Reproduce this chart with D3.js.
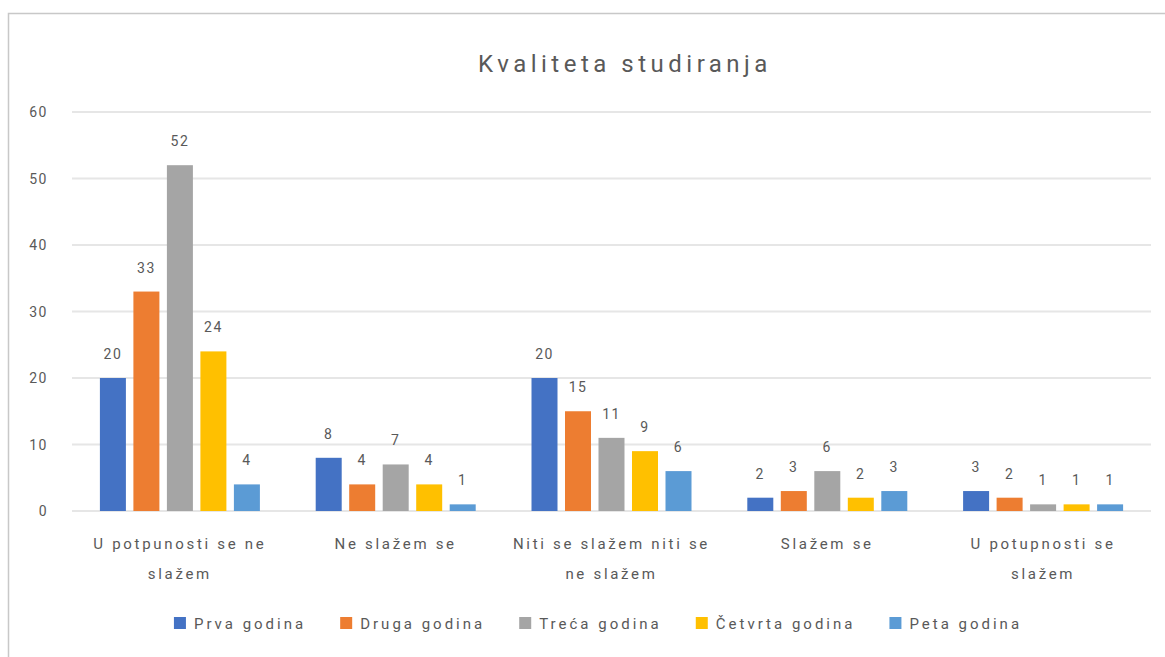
<!DOCTYPE html>
<html>
<head>
<meta charset="utf-8">
<script src="https://cdn.jsdelivr.net/npm/d3@7"></script>
<style>
  body { margin: 0; background: #fff; }
  text { font-family: Roboto, "Liberation Sans", sans-serif; fill: #595959; }
</style>
</head>
<body>
<script>
var categories = ["U potpunosti se ne\nslažem", "Ne slažem se", "Niti se slažem niti se\nne slažem", "Slažem se", "U potupnosti se\nslažem"];
var seriesNames = ["Prva godina", "Druga godina", "Treća godina", "Četvrta godina", "Peta godina"];
var prva = [20, 8, 20, 2, 3];
var druga = [33, 4, 15, 3, 2];
var treca = [52, 7, 11, 6, 1];
var cetvrta = [24, 4, 9, 2, 1];
var peta = [4, 1, 6, 3, 1];
var yTicks = [0, 10, 20, 30, 40, 50, 60];
var colors = ["#4472C4", "#ED7D31", "#A5A5A5", "#FFC000", "#5B9BD5"];

var series = [prva, druga, treca, cetvrta, peta];

var w = 1165, h = 657;
var plotLeft = 72, plotRight = 1151, plotTop = 112, plotBottom = 511;

var svg = d3.select("body").append("svg")
    .attr("width", w)
    .attr("height", h);

// outer chart border
svg.append("rect")
   .attr("x", 8.5).attr("y", 13.5)
   .attr("width", w + 10).attr("height", h)
   .attr("fill", "none")
   .attr("stroke", "#c8c8c8")
   .attr("stroke-width", 1.5);

var x = d3.scaleBand().domain(d3.range(categories.length)).range([plotLeft, plotRight]);
var y = d3.scaleLinear().domain([0, 60]).range([plotBottom, plotTop]);

// gridlines
svg.selectAll("line.grid")
   .data(yTicks)
   .enter()
   .append("line")
   .attr("x1", plotLeft).attr("x2", plotRight)
   .attr("y1", function(d) { return y(d); })
   .attr("y2", function(d) { return y(d); })
   .attr("stroke", "#e6e6e6")
   .attr("stroke-width", 2);

// y labels
svg.selectAll("text.ytick")
   .data(yTicks)
   .enter()
   .append("text")
   .text(function(d) { return d; })
   .attr("x", 48)
   .attr("y", function(d) { return y(d) + 5; })
   .attr("text-anchor", "end")
   .style("font-size", "14px")
   .style("letter-spacing", "1.5px");

var barW = 26, barStep = 33.5;

series.forEach(function(vals, s) {
  var g = svg.append("g");
  g.selectAll("rect")
   .data(vals)
   .enter()
   .append("rect")
   .attr("x", function(d, i) { return x(i) + x.bandwidth() / 2 + (s - 2) * barStep - barW / 2; })
   .attr("y", function(d) { return y(d); })
   .attr("width", barW)
   .attr("height", function(d) { return y(0) - y(d); })
   .attr("fill", colors[s]);

  g.selectAll("text")
   .data(vals)
   .enter()
   .append("text")
   .text(function(d) { return d; })
   .attr("x", function(d, i) { return x(i) + x.bandwidth() / 2 + (s - 2) * barStep; })
   .attr("y", function(d) { return y(d) - 19; })
   .attr("text-anchor", "middle")
   .style("font-size", "14px")
   .style("letter-spacing", "1.5px");
});

// category labels
categories.forEach(function(c, i) {
  var cx = x(i) + x.bandwidth() / 2;
  var t = svg.append("text")
    .attr("y", 549)
    .attr("text-anchor", "middle")
    .style("font-size", "15px")
    .style("letter-spacing", "2.7px");
  c.split("\n").forEach(function(line, k) {
    t.append("tspan")
     .attr("x", cx)
     .attr("dy", k === 0 ? 0 : 30)
     .text(line);
  });
});

// title
svg.append("text")
   .text("Kvaliteta studiranja")
   .attr("x", 625)
   .attr("y", 72)
   .attr("text-anchor", "middle")
   .style("font-size", "24px")
   .style("letter-spacing", "4.5px");

// legend
var legend = svg.append("g");
var lx = 0;
seriesNames.forEach(function(name, s) {
  legend.append("rect")
    .attr("x", lx).attr("y", -6)
    .attr("width", 12).attr("height", 12)
    .attr("fill", colors[s]);
  var t = legend.append("text")
    .text(name)
    .attr("x", lx + 20)
    .attr("y", 5.5)
    .style("font-size", "15px")
    .style("letter-spacing", "3px");
  lx += 20 + t.node().getComputedTextLength() + 34;
});
lx -= 34;
legend.attr("transform", "translate(" + (598 - lx / 2) + ",623)");
</script>
</body>
</html>
